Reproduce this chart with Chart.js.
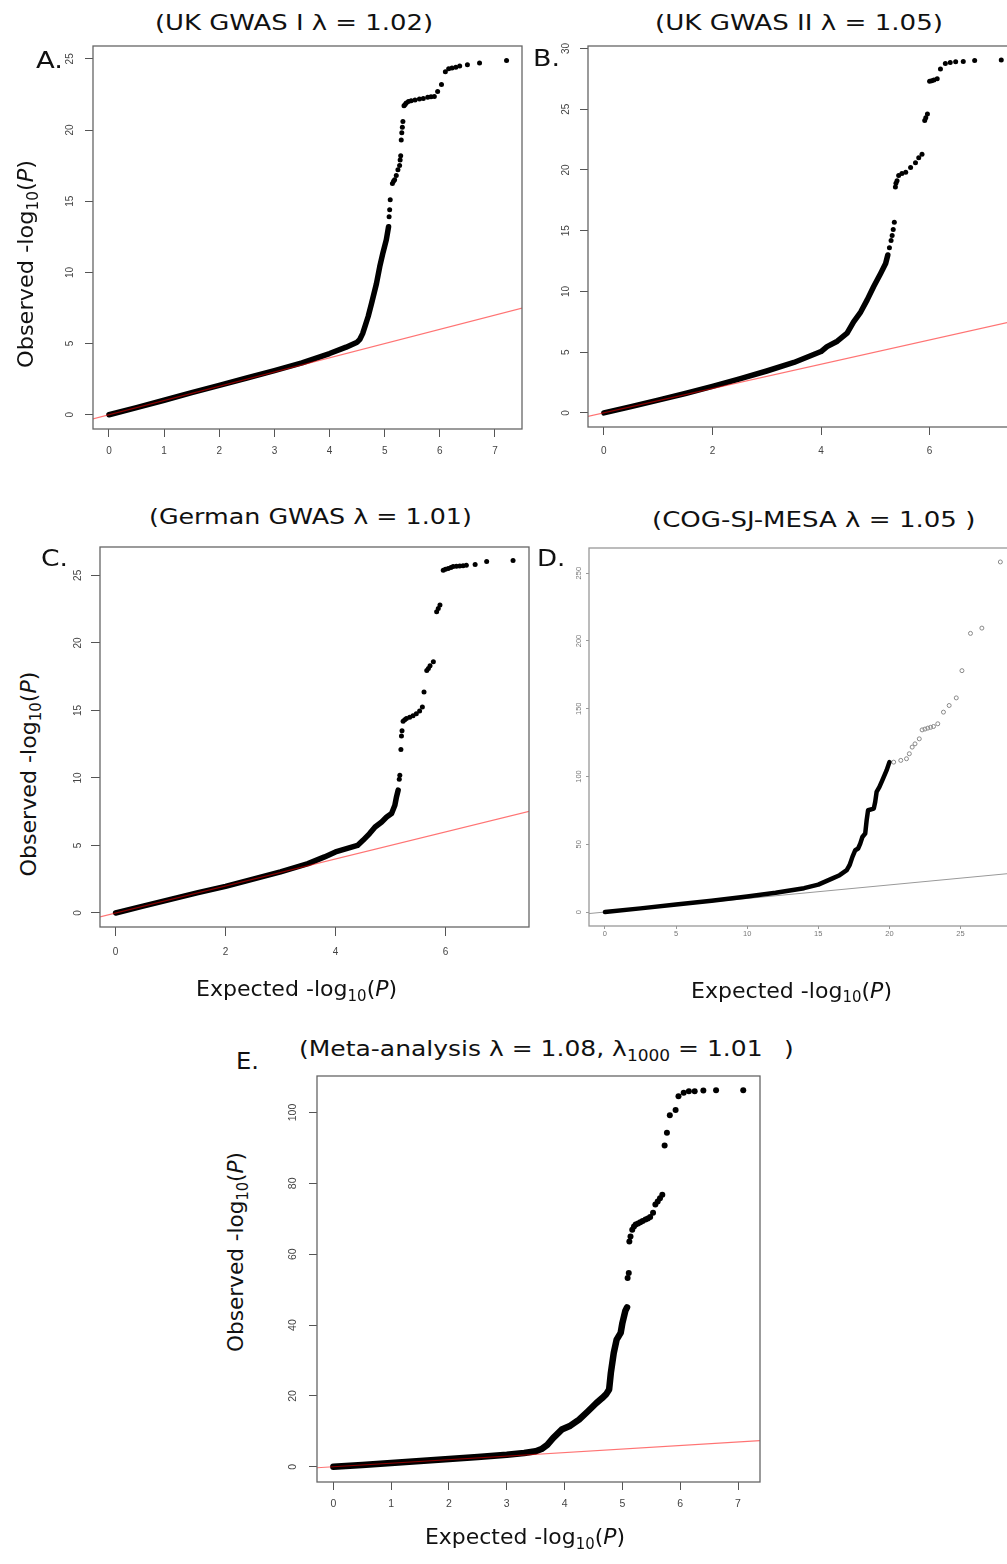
<!DOCTYPE html>
<html><head><meta charset="utf-8">
<script src="https://cdn.jsdelivr.net/npm/chart.js@4.4.0/dist/chart.umd.min.js"></script>
<style>
html,body{margin:0;padding:0;background:#fff;}
body{position:relative;width:1007px;height:1564px;overflow:hidden;}
canvas{position:absolute;}
.t{position:absolute;white-space:nowrap;font-family:'DejaVu Sans',sans-serif;color:#111;transform-origin:0 0;}
.sub{font-size:0.68em;position:relative;top:0.32em;line-height:0;}
</style></head><body>
<script>
// ---------- data ----------
const diagonal = [-20, 300];

// Panel A: UK GWAS I
const aXTicks = [0, 1, 2, 3, 4, 5, 6, 7];
const aYTicks = [0, 5, 10, 15, 20, 25];
const aDenseX = [0, 0.5, 1, 1.5, 2, 2.5, 3, 3.5, 4, 4.3, 4.5, 4.55, 4.6, 4.65, 4.7, 4.76, 4.85, 4.91, 4.97, 5.03, 5.07];
const aDenseY = [0, 0.5, 1.02, 1.55, 2.07, 2.58, 3.1, 3.65, 4.3, 4.75, 5.1, 5.3, 5.7, 6.3, 6.9, 7.8, 9.2, 10.4, 11.4, 12.3, 13.2];
const aDotX = [5.08, 5.09, 5.10, 5.14, 5.16, 5.18, 5.21, 5.24, 5.27, 5.28, 5.29, 5.30, 5.31, 5.32, 5.33, 5.35, 5.37, 5.39, 5.43, 5.48, 5.55, 5.63, 5.70, 5.78, 5.84, 5.90, 5.96, 6.03, 6.10, 6.16, 6.22, 6.29, 6.36, 6.50, 6.72, 7.21];
const aDotY = [13.9, 14.4, 15.1, 16.25, 16.4, 16.5, 16.8, 17.2, 17.5, 17.9, 18.2, 19.3, 19.8, 20.2, 20.6, 21.7, 21.8, 21.9, 22.0, 22.05, 22.1, 22.17, 22.22, 22.3, 22.33, 22.35, 22.7, 23.2, 24.1, 24.3, 24.35, 24.4, 24.5, 24.58, 24.7, 24.88];

// Panel B: UK GWAS II
const bXTicks = [0, 2, 4, 6];
const bYTicks = [0, 5, 10, 15, 20, 25, 30];
const bDenseX = [0, 0.5, 1, 1.5, 2, 2.5, 3, 3.5, 4, 4.11, 4.3, 4.48, 4.6, 4.73, 4.85, 4.97, 5.10, 5.19, 5.23];
const bDenseY = [0, 0.52, 1.05, 1.6, 2.19, 2.8, 3.45, 4.15, 5.05, 5.46, 5.9, 6.56, 7.5, 8.3, 9.3, 10.4, 11.5, 12.3, 13.0];
const bDotX = [5.26, 5.29, 5.31, 5.33, 5.35, 5.37, 5.38, 5.40, 5.43, 5.49, 5.56, 5.65, 5.74, 5.80, 5.86, 5.91, 5.93, 5.96, 6.00, 6.04, 6.08, 6.14, 6.20, 6.29, 6.38, 6.48, 6.62, 6.83, 7.32];
const bDotY = [13.6, 14.2, 14.6, 15.1, 15.7, 18.6, 18.9, 19.1, 19.55, 19.7, 19.8, 20.2, 20.6, 21.0, 21.3, 24.06, 24.3, 24.6, 27.3, 27.35, 27.4, 27.5, 28.3, 28.76, 28.85, 28.9, 28.93, 29.0, 29.04];

// Panel C: German GWAS
const cXTicks = [0, 2, 4, 6];
const cYTicks = [0, 5, 10, 15, 20, 25];
const cDenseX = [0, 0.5, 1, 1.5, 2, 2.5, 3, 3.5, 3.8, 4.0, 4.2, 4.4, 4.5, 4.62, 4.72, 4.84, 4.93, 5.02, 5.08, 5.11, 5.14];
const cDenseY = [0, 0.5, 1.0, 1.5, 1.97, 2.5, 3.04, 3.65, 4.15, 4.52, 4.76, 5.0, 5.38, 5.88, 6.37, 6.74, 7.1, 7.36, 7.97, 8.6, 9.1];
const cDotX = [5.16, 5.17, 5.19, 5.20, 5.21, 5.23, 5.26, 5.29, 5.35, 5.41, 5.47, 5.53, 5.58, 5.61, 5.66, 5.69, 5.72, 5.78, 5.84, 5.87, 5.90, 5.96, 6.00, 6.05, 6.10, 6.14, 6.20, 6.26, 6.32, 6.38, 6.54, 6.75, 7.23];
const cDotY = [9.9, 10.2, 12.1, 13.1, 13.5, 14.2, 14.3, 14.4, 14.5, 14.6, 14.75, 14.95, 15.25, 16.36, 17.96, 18.1, 18.3, 18.6, 22.3, 22.55, 22.8, 25.37, 25.45, 25.5, 25.58, 25.65, 25.68, 25.7, 25.72, 25.74, 25.8, 26.03, 26.1];

// Panel D: COG-SJ-MESA
const dXTicks = [0, 5, 10, 15, 20, 25];
const dYTicks = [0, 50, 100, 150, 200, 250];
const dDenseX = [0, 2.5, 5, 7.5, 10, 12, 14, 15, 16, 16.5, 17, 17.2, 17.4, 17.6, 17.8, 17.95, 18.1, 18.3, 18.4, 18.5, 18.9, 19.0, 19.1, 19.3, 19.5, 19.8, 20.0];
const dDenseY = [0, 2.7, 5.5, 8.3, 11.5, 14.2, 17.6, 20.2, 24.8, 27.2, 30.9, 34.6, 40.7, 45.6, 46.9, 50.5, 55.4, 57.9, 67.7, 75.1, 76.3, 81.2, 88.6, 92.3, 97.2, 104.5, 110.6];
const dDotX = [20.3, 20.8, 21.2, 21.4, 21.6, 21.8, 22.1, 22.3, 22.5, 22.7, 22.9, 23.1, 23.4, 23.8, 24.2, 24.7, 25.1, 25.7, 26.5, 27.8];
const dDotY = [110.6, 111.9, 113.1, 116.8, 121.7, 124.1, 127.8, 134.4, 135.0, 135.7, 136.3, 136.9, 138.9, 147.5, 152.4, 158.0, 178.1, 205.6, 209.5, 258.3];

// Panel E: Meta-analysis
const eXTicks = [0, 1, 2, 3, 4, 5, 6, 7];
const eYTicks = [0, 20, 40, 60, 80, 100];
const eDenseX = [0, 0.5, 1, 1.5, 2, 2.5, 3, 3.3, 3.5, 3.6, 3.7, 3.8, 3.95, 4.1, 4.25, 4.4, 4.55, 4.65, 4.72, 4.77, 4.8, 4.85, 4.9, 4.97, 5.0, 5.05, 5.08];
const eDenseY = [0, 0.5, 1.04, 1.6, 2.17, 2.75, 3.39, 3.9, 4.4, 5.0, 6.2, 8.1, 10.5, 11.6, 13.3, 15.6, 18.0, 19.4, 20.5, 21.8, 26.5, 32.1, 35.9, 37.8, 40.6, 44.0, 45.0];
const eDotX = [5.09, 5.11, 5.12, 5.14, 5.17, 5.20, 5.23, 5.27, 5.31, 5.35, 5.40, 5.44, 5.48, 5.53, 5.57, 5.61, 5.65, 5.69, 5.73, 5.77, 5.82, 5.92, 5.97, 6.06, 6.15, 6.25, 6.40, 6.62, 7.09];
const eDotY = [53.3, 54.7, 63.6, 65.0, 66.9, 67.8, 68.4, 68.7, 69.0, 69.4, 69.8, 70.1, 70.5, 71.7, 74.0, 74.9, 75.8, 76.8, 90.7, 94.3, 99.2, 100.7, 104.6, 105.6, 106.0, 106.0, 106.2, 106.3, 106.3];

// ---------- drawing ----------
const AX = 50, PAD = 4;
const boxPlugin = {
  id: 'box',
  afterDatasetsDraw(chart, args, opts) {
    const a = chart.chartArea, ctx = chart.ctx;
    ctx.save();
    ctx.strokeStyle = opts.color || '#666';
    ctx.lineWidth = opts.width || 1.3;
    ctx.strokeRect(a.left, a.top, a.right - a.left, a.bottom - a.top);
    ctx.restore();
  }
};
const pts = (xs, ys) => xs.map((x, i) => ({x: x, y: ys[i]}));

function panel(o) {
  const W = o.R - o.L, H = o.B - o.T;
  const cw = W + AX + PAD, ch = H + AX + PAD;
  const c = document.createElement('canvas');
  c.width = cw; c.height = ch;
  c.style.left = (o.L - AX) + 'px'; c.style.top = (o.T - PAD) + 'px';
  c.style.width = cw + 'px'; c.style.height = ch + 'px';
  document.body.appendChild(c);
  const tickFont = {family: "'Liberation Sans', Arial, sans-serif", size: o.tfs};
  new Chart(c, {
    type: 'scatter',
    data: {datasets: [
      {data: diagonal.map(v => ({x: v, y: v})), showLine: true, borderColor: o.refColor, borderWidth: o.refW,
       pointRadius: 0, order: o.refOnTop ? 0 : 5, clip: 0},
      {data: pts(o.denseX, o.denseY), showLine: true, borderColor: '#000', borderWidth: o.lw, pointRadius: 0,
       borderCapStyle: 'round', borderJoinStyle: 'round', tension: 0, order: 1},
      {data: pts(o.dotX, o.dotY), showLine: false, pointRadius: o.r, pointBackgroundColor: o.dotFill,
       backgroundColor: o.dotFill, pointBorderColor: o.dotStroke, borderColor: o.dotStroke, pointBorderWidth: o.dotBW, order: 2}
    ]},
    options: {
      responsive: false, animation: false, devicePixelRatio: 1, events: [],
      layout: {padding: {left: 0, top: PAD, right: PAD, bottom: 0}},
      plugins: {legend: {display: false}, tooltip: {enabled: false}, title: {display: false},
                box: {color: o.boxColor, width: 1.3}},
      scales: {
        x: {type: 'linear', position: 'bottom', min: o.xr[0], max: o.xr[1],
            afterBuildTicks: s => { s.ticks = o.xTicks.map(v => ({value: v})); },
            afterFit: s => { s.height = AX; s.paddingLeft = 0; s.paddingRight = 0; },
            ticks: {autoSkip: false, maxRotation: 0, minRotation: 0, padding: o.xPad, color: o.tickColor,
                    font: tickFont, callback: v => String(v)},
            grid: {drawOnChartArea: false, drawTicks: true, tickLength: o.tl, color: o.axisColor, lineWidth: 1},
            border: {display: false}},
        y: {type: 'linear', position: 'left', min: o.yr[0], max: o.yr[1],
            afterBuildTicks: s => { s.ticks = o.yTicks.map(v => ({value: v})); },
            afterFit: s => { s.width = AX; s.paddingTop = 0; s.paddingBottom = 0; },
            ticks: {autoSkip: false, minRotation: 90, maxRotation: 90, crossAlign: 'center', padding: o.yPad,
                    color: o.tickColor, font: tickFont, callback: v => String(v)},
            grid: {drawOnChartArea: false, drawTicks: true, tickLength: o.tl, color: o.axisColor, lineWidth: 1},
            border: {display: false}}
      }
    },
    plugins: [boxPlugin]
  });
}

const redRef = 'rgba(255,0,0,0.55)';
panel({L: 93, R: 522, T: 46, B: 429, xr: [-0.29, 7.49], yr: [-1.0, 25.9], xTicks: aXTicks, yTicks: aYTicks,
  denseX: aDenseX, denseY: aDenseY, dotX: aDotX, dotY: aDotY, lw: 5.5, r: 2.5, dotFill: '#000', dotStroke: '#000', dotBW: 0,
  refColor: redRef, refW: 1.2, refOnTop: true, tfs: 10, tl: 8, xPad: 8, yPad: 9.4, tickColor: '#444', axisColor: '#555', boxColor: '#666'});
panel({L: 588, R: 1017, T: 46, B: 427, xr: [-0.293, 7.61], yr: [-1.16, 30.2], xTicks: bXTicks, yTicks: bYTicks,
  denseX: bDenseX, denseY: bDenseY, dotX: bDotX, dotY: bDotY, lw: 5.5, r: 2.5, dotFill: '#000', dotStroke: '#000', dotBW: 0,
  refColor: redRef, refW: 1.2, refOnTop: true, tfs: 10, tl: 8, xPad: 10, yPad: 8.4, tickColor: '#444', axisColor: '#555', boxColor: '#666'});
panel({L: 100, R: 529, T: 547, B: 927, xr: [-0.284, 7.52], yr: [-1.04, 27.1], xTicks: cXTicks, yTicks: cYTicks,
  denseX: cDenseX, denseY: cDenseY, dotX: cDotX, dotY: cDotY, lw: 5.5, r: 2.5, dotFill: '#000', dotStroke: '#000', dotBW: 0,
  refColor: redRef, refW: 1.2, refOnTop: true, tfs: 10, tl: 9, xPad: 10, yPad: 7.4, tickColor: '#444', axisColor: '#555', boxColor: '#666'});
panel({L: 589, R: 1017, T: 547, B: 926, xr: [-1.12, 28.9], yr: [-10.3, 268.6], xTicks: dXTicks, yTicks: dYTicks,
  denseX: dDenseX, denseY: dDenseY, dotX: dDotX, dotY: dDotY, lw: 4.5, r: 2, dotFill: 'rgba(0,0,0,0)', dotStroke: '#888', dotBW: 1,
  refColor: '#999', refW: 1, refOnTop: false, tfs: 7.5, tl: 3, xPad: 0.5, yPad: 1.2, tickColor: '#777', axisColor: '#999', boxColor: '#999'});
panel({L: 317, R: 760, T: 1076, B: 1482, xr: [-0.283, 7.38], yr: [-4.3, 110.3], xTicks: eXTicks, yTicks: eYTicks,
  denseX: eDenseX, denseY: eDenseY, dotX: eDotX, dotY: eDotY, lw: 6.5, r: 3, dotFill: '#000', dotStroke: '#000', dotBW: 0,
  refColor: redRef, refW: 1.2, refOnTop: true, tfs: 10.5, tl: 8, xPad: 7.5, yPad: 7, tickColor: '#444', axisColor: '#555', boxColor: '#666'});

// ---------- text ----------
function addText(html, L, R, baseline, fs) {
  const d = document.createElement('div');
  d.className = 't';
  d.style.fontSize = fs + 'px';
  d.style.lineHeight = fs + 'px';
  d.innerHTML = html;
  document.body.appendChild(d);
  const w = d.getBoundingClientRect().width;
  const s = R !== null ? (R - L) / w : 1.13;
  d.style.left = L + 'px';
  d.style.top = (baseline - 0.846 * fs) + 'px';
  d.style.transform = 'scaleX(' + s + ')';
}
function addVText(html, bx, y0, y1, fs) {
  const d = document.createElement('div');
  d.className = 't';
  d.style.fontSize = fs + 'px';
  d.style.lineHeight = fs + 'px';
  d.innerHTML = html;
  document.body.appendChild(d);
  const w = d.getBoundingClientRect().width;
  const s = (y1 - y0) / w;
  d.style.left = (bx - 0.346 * fs) + 'px';
  d.style.top = ((y0 + y1) / 2) + 'px';
  d.style.transformOrigin = '50% 50%';
  d.style.transform = 'translate(-50%,-50%) rotate(-90deg) scaleX(' + s + ')';
}
const OBS = 'Observed -log<span class="sub">10</span>(<i>P</i>)';
const EXP = 'Expected -log<span class="sub">10</span>(<i>P</i>)';

addText('(UK GWAS I λ = 1.02)', 155, 433, 30.7, 22);
addText('(UK GWAS II λ = 1.05)', 655, 943, 30.5, 22);
addText('(German GWAS λ = 1.01)', 148.7, 471.6, 525, 22);
addText('(COG-SJ-MESA λ = 1.05 )', 651.7, 975, 527.3, 22);
addText('(Meta-analysis λ = 1.08, λ<span class="sub">1000</span> = 1.01', 299.3, 762.9, 1056.7, 22);
addText(')', 784, null, 1056.7, 22);

addText('A.', 36, 63, 68.3, 23);
addText('B.', 533, 560, 66.7, 23);
addText('C.', 40.6, 67.6, 566, 23);
addText('D.', 536.7, 565, 566.7, 23);
addText('E.', 236, 259, 1069.3, 23);

addVText(OBS, 33.3, 160, 368, 22);
addVText(OBS, 36.5, 671.7, 876.7, 22);
addVText(OBS, 244, 1151.7, 1351.7, 22);

addText(EXP, 196, 397.2, 996.7, 22);
addText(EXP, 690.7, 891.7, 998.3, 22);
addText(EXP, 425.4, 625.4, 1545, 22);
</script>
</body></html>
